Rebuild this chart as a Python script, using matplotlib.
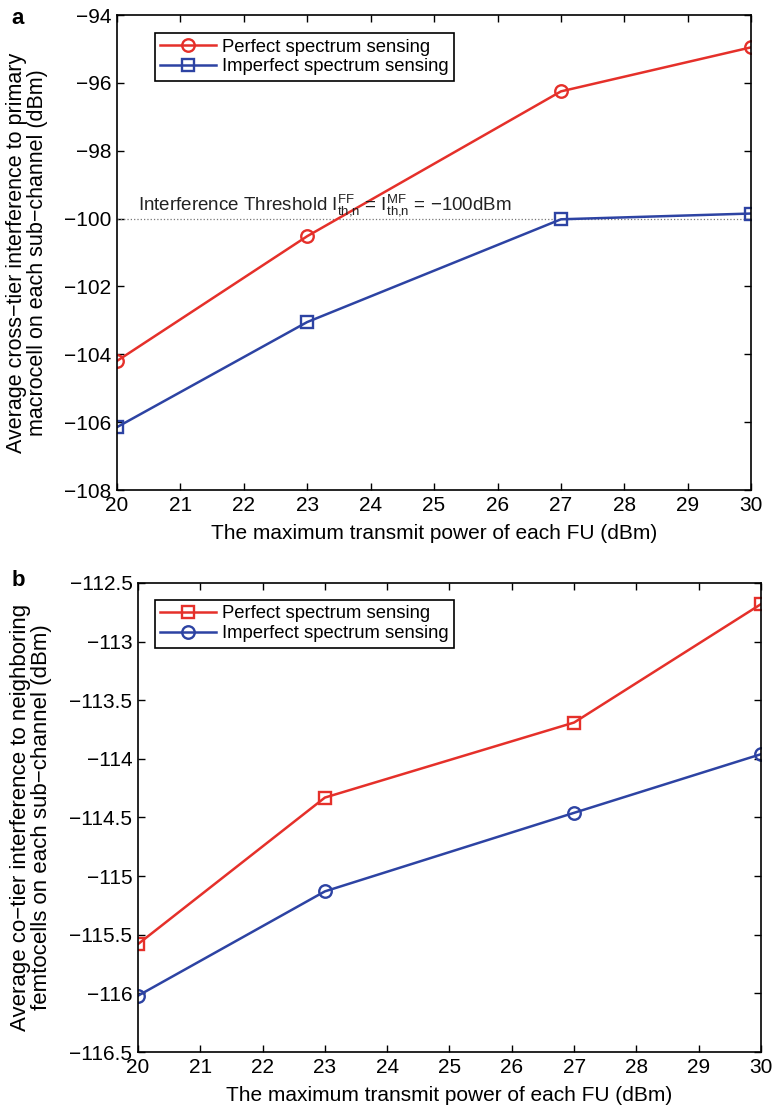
import matplotlib
matplotlib.use("Agg")
import matplotlib.pyplot as plt

plt.rcParams['font.family'] = ['Liberation Sans', 'DejaVu Sans']
plt.rcParams['mathtext.fontset'] = 'custom'
plt.rcParams['mathtext.rm'] = 'Liberation Sans'
plt.rcParams['mathtext.it'] = 'Liberation Sans'
plt.rcParams['font.size'] = 12

# transmit power of each FU (dBm)
power = [20, 23, 27, 30]

# (a) cross-tier interference to primary macrocell
cross_perfect = [-104.2, -100.52, -96.25, -94.95]
cross_imperfect = [-106.15, -103.05, -100.02, -99.85]
threshold = -100

# (b) co-tier interference to neighboring femtocells
co_perfect = [-115.58, -114.33, -113.69, -112.68]
co_imperfect = [-116.02, -115.13, -114.46, -113.96]

RED = '#E5302A'
BLUE = '#2D43A3'
MINUS = '\u2212'
TICK_FS = 15
LABEL_FS = 15
LEG_FS = 13.3


def style_axes(ax):
    ax.tick_params(direction='in', top=True, right=True, length=5, width=1,
                   labelsize=TICK_FS, pad=4)
    for s in ax.spines.values():
        s.set_linewidth(1.2)
    ax.set_xlim(20, 30)
    ax.set_xticks(range(20, 31))


def fmt(v, nd=0):
    s = f"{v:.{nd}f}" if nd else f"{v:.0f}"
    if nd and s.endswith('.0'):
        s = s[:-2]
    return s.replace('-', MINUS)


def add_legend(ax, anchor):
    leg = ax.legend(loc='upper left', bbox_to_anchor=anchor,
                    handlelength=3.0, fancybox=False, edgecolor='black',
                    framealpha=1, borderpad=0.3, labelspacing=0.15,
                    handletextpad=0.35, borderaxespad=0, fontsize=LEG_FS)
    leg.get_frame().set_linewidth(1.2)
    return leg


fig = plt.figure(figsize=(7.73, 11.13), dpi=100)

# ---- panel a ----
ax1 = fig.add_axes([0.151, 0.5597, 0.821, 0.4268])
ax1.plot([20, 30], [threshold, threshold], ':', color='#777777', lw=0.9)
ax1.plot(power, cross_perfect, '-o', color=RED, lw=1.8, ms=9, mfc='none',
         mew=1.7, label='Perfect spectrum sensing')
ax1.plot(power, cross_imperfect, '-s', color=BLUE, lw=1.8, ms=8, mfc='none',
         mew=1.7, label='Imperfect spectrum sensing')
style_axes(ax1)
ax1.set_ylim(-108, -94)
yt = list(range(-108, -93, 2))
ax1.set_yticks(yt)
ax1.set_yticklabels([fmt(v) for v in yt])
ax1.text(20.33, -99.72,
         'Interference Threshold I$^{\\mathrm{FF}}_{\\mathrm{th{,}n}}$ = '
         'I$^{\\mathrm{MF}}_{\\mathrm{th{,}n}}$ = ' + MINUS + '100dBm',
         fontsize=13.5, va='baseline', color='#222222')
ax1.set_xlabel('The maximum transmit power of each FU (dBm)',
               fontsize=LABEL_FS)
ax1.xaxis.set_label_coords(0.5, -0.072)
ax1.set_ylabel('Average cross' + MINUS + 'tier interference to primary\n'
               'macrocell on each sub' + MINUS + 'channel (dBm)',
               fontsize=15.5, linespacing=1.0)
ax1.yaxis.set_label_coords(-0.108, 0.5)
add_legend(ax1, (0.06, 0.962))
fig.text(0.015, 0.983, 'a', fontsize=16, fontweight='bold', va='center')

# ---- panel b ----
ax2 = fig.add_axes([0.1785, 0.0548, 0.806, 0.4214])
ax2.plot(power, co_perfect, '-s', color=RED, lw=1.8, ms=8, mfc='none',
         mew=1.7, label='Perfect spectrum sensing')
ax2.plot(power, co_imperfect, '-o', color=BLUE, lw=1.8, ms=9, mfc='none',
         mew=1.7, label='Imperfect spectrum sensing')
style_axes(ax2)
ax2.set_ylim(-116.5, -112.5)
yt2 = [-116.5, -116, -115.5, -115, -114.5, -114, -113.5, -113, -112.5]
ax2.set_yticks(yt2)
ax2.set_yticklabels([fmt(v, 1) for v in yt2])
ax2.set_xlabel('The maximum transmit power of each FU (dBm)',
               fontsize=LABEL_FS)
ax2.xaxis.set_label_coords(0.5, -0.072)
ax2.set_ylabel('Average co' + MINUS + 'tier interference to neighboring\n'
               'femtocells on each sub' + MINUS + 'channel (dBm)',
               fontsize=16, linespacing=1.0)
ax2.yaxis.set_label_coords(-0.138, 0.5)
add_legend(ax2, (0.027, 0.964))
fig.text(0.015, 0.478, 'b', fontsize=16, fontweight='bold', va='center')

fig.savefig('out.png', dpi=100)
